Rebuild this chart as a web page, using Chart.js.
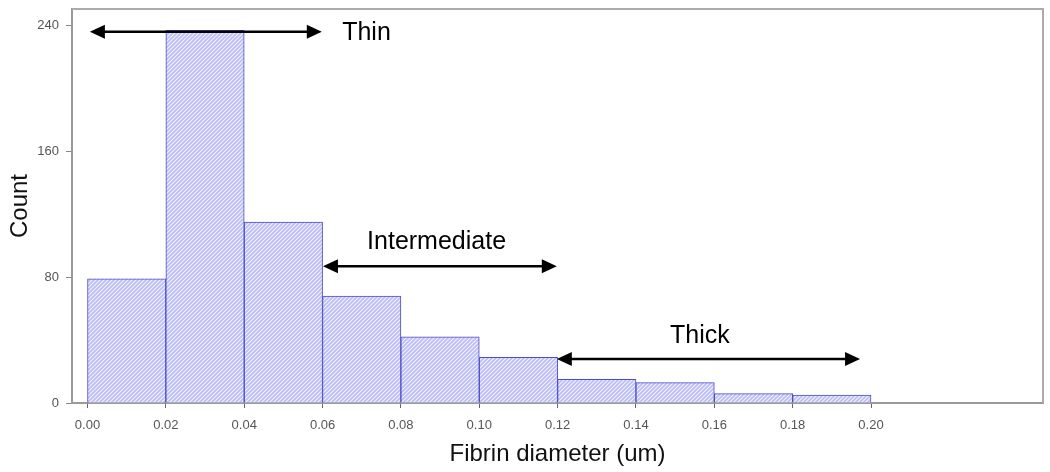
<!DOCTYPE html>
<html>
<head>
<meta charset="utf-8">
<script src="https://cdn.jsdelivr.net/npm/chart.js@4/dist/chart.umd.min.js"></script>
<style>
  html, body { margin: 0; padding: 0; background: #ffffff; }
  #wrap { width: 1050px; height: 472px; position: relative; }
</style>
</head>
<body>
<div id="wrap"><canvas id="c" width="1050" height="472"></canvas></div>
<script>
// ---- data ----
const binStarts = [0.00, 0.02, 0.04, 0.06, 0.08, 0.10, 0.12, 0.14, 0.16, 0.18];
const binWidth = 0.02;
const counts = [79, 237, 115, 68, 42, 29, 15, 13, 6, 5];
const xTickValues = [0.00, 0.02, 0.04, 0.06, 0.08, 0.10, 0.12, 0.14, 0.16, 0.18, 0.20];
const yTickValues = [0, 80, 160, 240];
const rangeLabels = ['Thin', 'Intermediate', 'Thick'];
const rangeFrom = [0.0006, 0.0601, 0.1198];
const rangeTo = [0.0598, 0.1198, 0.1972];
const rangeArrowY = [236, 87, 28];
const xTitle = 'Fibrin diameter (um)';
const yTitle = 'Count';

// label placement for the annotations (data units)
const labelX = [0.0650, 0.0891, 0.1563];
const labelY = [236, 103, 43];
const labelAlign = ['left', 'center', 'center'];

// ---- hatch pattern ----
function makeHatch() {
  const s = 4;
  const p = document.createElement('canvas');
  p.width = s; p.height = s;
  const g = p.getContext('2d');
  g.fillStyle = 'rgb(188,188,246)';
  g.fillRect(0, 0, s, s);
  g.strokeStyle = 'rgba(246,246,255,0.95)';
  g.lineWidth = 1.1;
  g.beginPath();
  g.moveTo(-1, s + 1); g.lineTo(s + 1, -1);
  g.moveTo(-1, 1); g.lineTo(1, -1);
  g.moveTo(s - 1, s + 1); g.lineTo(s + 1, s - 1);
  g.stroke();
  return g.createPattern(p, 'repeat');
}

const ctx = document.getElementById('c').getContext('2d');
const hatch = makeHatch();

const points = binStarts.map((s, i) => ({ x: s + binWidth / 2, y: counts[i] }));

const FONT = "'Liberation Sans', Arial, sans-serif";

const framePlugin = {
  id: 'frame',
  beforeDatasetsDraw(chart) {
    const { ctx, chartArea: a } = chart;
    ctx.save();
    ctx.strokeStyle = '#ababab';
    ctx.lineWidth = 2;
    ctx.beginPath();
    ctx.moveTo(a.left, a.top);
    ctx.lineTo(a.right, a.top);
    ctx.lineTo(a.right, a.bottom);
    ctx.stroke();
    ctx.restore();
  }
};

const arrowPlugin = {
  id: 'arrows',
  afterDatasetsDraw(chart) {
    const { ctx } = chart;
    const xs = chart.scales.x, ys = chart.scales.y;
    ctx.save();
    ctx.strokeStyle = '#000';
    ctx.fillStyle = '#000';
    for (let i = 0; i < rangeLabels.length; i++) {
      const x1 = xs.getPixelForValue(rangeFrom[i]);
      const x2 = xs.getPixelForValue(rangeTo[i]);
      const y = ys.getPixelForValue(rangeArrowY[i]);
      const L = 15, H = 7;
      ctx.lineWidth = 2.5;
      ctx.beginPath();
      ctx.moveTo(x1 + L - 2, y);
      ctx.lineTo(x2 - L + 2, y);
      ctx.stroke();
      ctx.beginPath();
      ctx.moveTo(x1, y); ctx.lineTo(x1 + L, y - H); ctx.lineTo(x1 + L, y + H); ctx.closePath();
      ctx.fill();
      ctx.beginPath();
      ctx.moveTo(x2, y); ctx.lineTo(x2 - L, y - H); ctx.lineTo(x2 - L, y + H); ctx.closePath();
      ctx.fill();
      ctx.font = '25px ' + FONT;
      ctx.textAlign = labelAlign[i];
      ctx.textBaseline = 'middle';
      ctx.fillText(rangeLabels[i], xs.getPixelForValue(labelX[i]), ys.getPixelForValue(labelY[i]) + 1);
    }
    ctx.restore();
  }
};

new Chart(ctx, {
  type: 'bar',
  data: {
    datasets: [{
      data: points,
      backgroundColor: hatch,
      borderColor: '#4c4cc4',
      borderWidth: 1,
      barPercentage: 1,
      categoryPercentage: 1,
      grouped: false
    }]
  },
  options: {
    responsive: false,
    animation: false,
    events: [],
    layout: { padding: { top: 9, right: 7, left: 0, bottom: 0 } },
    plugins: {
      legend: { display: false },
      tooltip: { enabled: false },
      title: { display: false }
    },
    scales: {
      x: {
        type: 'linear',
        offset: false,
        min: -0.00396,
        max: 0.2439,
        afterBuildTicks(scale) { scale.ticks = xTickValues.map(v => ({ value: v })); },
        afterFit(scale) { scale.height = 69; scale.paddingLeft = 0; scale.paddingRight = 0; },
        ticks: {
          autoSkip: false,
          maxRotation: 0,
          padding: 10,
          color: '#555',
          font: { family: FONT, size: 13 },
          callback: v => Number(v).toFixed(2)
        },
        grid: { display: true, offset: false, drawOnChartArea: false, drawTicks: true, tickLength: 5, color: '#666', lineWidth: 1 },
        border: { display: true, color: '#9a9a9a', width: 2 },
        title: {
          display: true,
          text: xTitle,
          color: '#111',
          font: { family: FONT, size: 24 },
          padding: { top: 0, bottom: 3 }
        }
      },
      y: {
        min: 0,
        max: 250.5,
        afterBuildTicks(scale) { scale.ticks = yTickValues.map(v => ({ value: v })); },
        afterFit(scale) { scale.width = 72; scale.paddingTop = 0; scale.paddingBottom = 0; },
        ticks: {
          padding: 7,
          color: '#555',
          font: { family: FONT, size: 13 }
        },
        grid: { display: true, drawOnChartArea: false, drawTicks: true, tickLength: 6, color: '#888', lineWidth: 1 },
        border: { display: true, color: '#9a9a9a', width: 2 },
        title: {
          display: true,
          text: yTitle,
          color: '#111',
          font: { family: FONT, size: 24 },
          padding: { top: 6, bottom: 0 }
        }
      }
    }
  },
  plugins: [framePlugin, arrowPlugin]
});
</script>
</body>
</html>
